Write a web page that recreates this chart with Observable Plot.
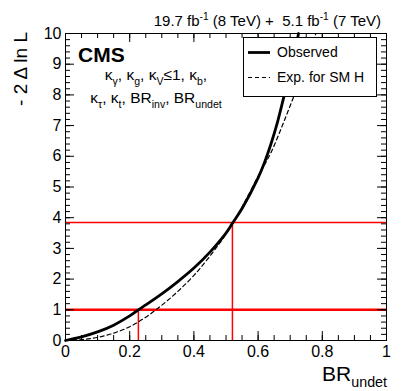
<!DOCTYPE html>
<html>
<head>
<meta charset="utf-8">
<script src="https://cdn.jsdelivr.net/npm/d3@7"></script>
<script src="https://cdn.jsdelivr.net/npm/@observablehq/plot@0.6"></script>
<style>
  body { margin: 0; background: #fff; }
  #chart { position: relative; width: 407px; height: 391px; }
  svg text { white-space: pre; }
</style>
</head>
<body>
<div id="chart"></div>
<script>
// ---- data ----
const obsX = [0, 0.05, 0.1, 0.15, 0.2, 0.227, 0.25, 0.3, 0.35, 0.4, 0.45, 0.5, 0.52, 0.55, 0.6, 0.62, 0.64, 0.66, 0.68, 0.70, 0.72, 0.726];
const obsY = [0, 0.12, 0.28, 0.5, 0.8, 1.0, 1.16, 1.52, 1.92, 2.36, 2.88, 3.5, 3.82, 4.3, 5.3, 5.8, 6.4, 7.1, 7.93, 8.8, 9.7, 10];
const expX = [0, 0.05, 0.1, 0.15, 0.2, 0.25, 0.3, 0.35, 0.4, 0.45, 0.5, 0.55, 0.6, 0.64, 0.68, 0.72, 0.76, 0.78];
const expY = [0, 0.03, 0.1, 0.24, 0.45, 0.76, 1.15, 1.6, 2.12, 2.75, 3.47, 4.35, 5.35, 6.12, 7.12, 8.2, 9.4, 10];
const clLevels = [1, 3.84];          // 68% and 95% CL thresholds
const clWidths = [2.5, 1.5];
const obsCrossX = [0.227, 0.52];     // observed intervals' upper edges
const xTicks = [0, 0.2, 0.4, 0.6, 0.8, 1];
const xTickLabels = ["0", "0.2", "0.4", "0.6", "0.8", "1"];
const yTicks = [0, 1, 2, 3, 4, 5, 6, 7, 8, 9, 10];
const yTickLabels = ["0", "1", "2", "3", "4", "5", "6", "7", "8", "9", "10"];
const xMinor = d3.range(0, 1.0001, 0.05).map(v => +v.toFixed(2));
const yMinor = d3.range(0, 10.0001, 0.2).map(v => +v.toFixed(1));

const observed = obsX.map((x, i) => ({x, y: obsY[i]}));
const expected = expX.map((x, i) => ({x, y: expY[i]}));
const clLines = clLevels.map((y, i) => ({y, w: clWidths[i]}));
const crossings = obsCrossX.map((x, i) => ({x, y: clLevels[i]}));

const W = 407, H = 391, mL = 65, mR = 21, mT = 33, mB = 51;
const pw = W - mL - mR, ph = H - mT - mB;
const RED = "#ff0000";

const svg = Plot.plot({
  width: W, height: H,
  marginLeft: mL, marginRight: mR, marginTop: mT, marginBottom: mB,
  style: {fontFamily: "'Liberation Sans', Arial, Helvetica, sans-serif", fontSize: "16px", color: "black", background: "white"},
  x: {domain: [0, 1], label: null},
  y: {domain: [0, 10], label: null},
  marks: [
    // CL lines
    Plot.ruleY(clLines, {y: "y", stroke: RED, strokeWidth: "w"}),
    Plot.ruleX(crossings, {x: "x", y1: 0, y2: "y", stroke: RED, strokeWidth: 1.5}),
    // curves
    Plot.line(expected, {x: "x", y: "y", curve: "catmull-rom", stroke: "black", strokeWidth: 1.2, strokeDasharray: "4,3"}),
    Plot.line(observed, {x: "x", y: "y", curve: "catmull-rom", stroke: "black", strokeWidth: 2.8}),
    // inward ticks on all four sides
    Plot.ruleX(xMinor, {x: d => d, insetTop: ph - 5, stroke: "black"}),
    Plot.ruleX(xMinor, {x: d => d, insetBottom: ph - 5, stroke: "black"}),
    Plot.ruleX(xTicks, {x: d => d, insetTop: ph - 9, stroke: "black"}),
    Plot.ruleX(xTicks, {x: d => d, insetBottom: ph - 9, stroke: "black"}),
    Plot.ruleY(yMinor, {y: d => d, insetRight: pw - 5, stroke: "black"}),
    Plot.ruleY(yMinor, {y: d => d, insetLeft: pw - 5, stroke: "black"}),
    Plot.ruleY(yTicks, {y: d => d, insetRight: pw - 9, stroke: "black"}),
    Plot.ruleY(yTicks, {y: d => d, insetLeft: pw - 9, stroke: "black"}),
    Plot.frame({stroke: "black", strokeWidth: 1}),
    Plot.axisX(xTicks, {tickSize: 0, tickPadding: 5, fontSize: 16, tickFormat: (d, i) => xTickLabels[i], label: null}),
    Plot.axisY(yTicks, {tickSize: 0, tickPadding: 4, fontSize: 16, tickFormat: (d, i) => yTickLabels[i], label: null})
  ]
});
document.getElementById("chart").appendChild(svg);

// ---- annotations (text with sub/superscripts) ----
const root = d3.select(svg);
const ann = root.append("g").attr("font-family", "'Liberation Sans', Arial, Helvetica, sans-serif").attr("fill", "black");

function richText(g, x, y, parts, {size = 16, anchor = "start", weight = "normal", transform = null} = {}) {
  const t = g.append("text").attr("x", x).attr("y", y).attr("font-size", size)
    .attr("text-anchor", anchor).attr("font-weight", weight);
  if (transform) t.attr("transform", transform);
  let cur = 0;
  for (const [s, kind] of parts) {
    const shift = kind === "sub" ? 0.3 * size : kind === "sup" ? -0.38 * size : 0;
    const fs = kind ? 0.68 * size : size;
    t.append("tspan").attr("dy", shift - cur).attr("font-size", fs).text(s);
    cur = shift;
  }
  return t;
}

// luminosity label
richText(ann, 381, 26, [["19.7 fb"], ["-1", "sup"], [" (8 TeV) +  5.1 fb"], ["-1", "sup"], [" (7 TeV)"]], {size: 15, anchor: "end"});
// CMS
richText(ann, 78, 62, [["CMS"]], {size: 21, weight: "bold"});
richText(ann, 156, 80, [["κ"], ["γ", "sub"], [", κ"], ["g", "sub"], [", κ"], ["V", "sub"], ["≤1, κ"], ["b", "sub"], [","]], {size: 15.5, anchor: "middle"});
richText(ann, 156, 103, [["κ"], ["τ", "sub"], [", κ"], ["t", "sub"], [", BR"], ["inv", "sub"], [", BR"], ["undet", "sub"]], {size: 15.5, anchor: "middle"});
// axis titles
richText(ann, 387, 381, [["BR"], ["undet", "sub"]], {size: 21, anchor: "end"});
richText(ann, 0, 0, [["- 2 Δ ln L"]], {size: 19, anchor: "end", transform: "translate(26.5,32) rotate(-90)"});

// legend box
const lg = ann.append("g");
lg.append("rect").attr("x", 243.5).attr("y", 37.5).attr("width", 133).attr("height", 59)
  .attr("fill", "white").attr("stroke", "black").attr("stroke-width", 1);
lg.append("line").attr("x1", 248).attr("x2", 270).attr("y1", 52.5).attr("y2", 52.5)
  .attr("stroke", "black").attr("stroke-width", 2.8);
lg.append("line").attr("x1", 248).attr("x2", 270).attr("y1", 77.5).attr("y2", 77.5)
  .attr("stroke", "black").attr("stroke-width", 1.2).attr("stroke-dasharray", "4,3");
richText(lg, 277, 57, [["Observed"]], {size: 14});
richText(lg, 277, 82, [["Exp. for SM H"]], {size: 14});
</script>
</body>
</html>
